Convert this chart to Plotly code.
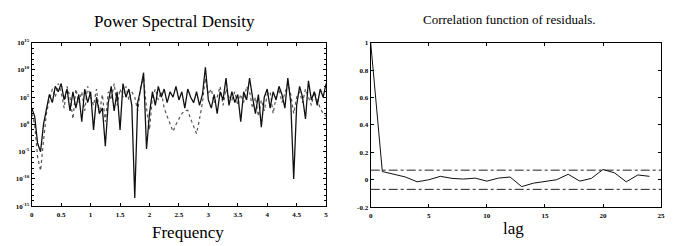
import plotly.graph_objects as go

# ---- data ----
freq = [round(i * 0.05, 2) for i in range(101)]

psd_solid_log10 = [
    3.0, 1.5, -3.5, -5.0, 0.0, 3.0, 5.5, 4.0, 7.0, 6.0,
    7.5, 4.5, 6.5, 2.5, 6.0, 3.0, 5.5, 0.5, 6.5, 4.0,
    6.0, -1.0, 5.0, 2.0, 3.0, -4.0, 4.0, 7.0, 2.5, 6.0,
    -1.0, 7.5, 5.0, 6.5, 3.5, -13.5, 4.0, 6.5, 9.5, -4.5,
    2.0, 6.0, 3.5, 7.0, 5.0, 6.5, 4.0, 6.0, 5.0, 7.0,
    4.5, 6.0, 3.0, 6.5, 5.0, 4.0, 6.0, 3.5, 5.5, 10.5,
    4.5, 3.0, 5.5, 2.0, 6.0, 4.5, 8.5, 3.5, 6.0, 4.0,
    5.5, 0.5, 6.0, 4.5, 8.5, 5.0, 2.0, 5.5, -0.5, 5.0,
    6.5, 3.0, 6.0, 4.5, 7.0, 5.5, 3.0, 8.5, 4.0, -10.0,
    3.5, 7.0, 5.0, 1.0, 8.0, 4.5, 6.0, 3.5, 6.5, 5.0,
    7.5,
]

psd_dotted_log10 = [
    2.0, 0.0, -6.0, -8.5, -3.0, 2.0, 4.5, 6.5, 5.0, 7.5,
    6.0, 3.0, 7.0, 5.0, 1.0, 6.5, 4.0, 6.0, 2.5, 7.0,
    5.0, 3.5, 6.5, 2.0, 5.5, 0.5, 6.0, 4.5, 7.5, 3.5,
    6.5, 5.0, 7.0, 4.5, 6.0, 5.0, 2.5, 7.0, 8.5, 3.0,
    -1.0, 5.0, 6.5, 4.5, 6.0, 3.0, 1.5, 0.0, -1.3, 0.0,
    1.0, 2.0, 2.5, 2.6, 1.0, -0.5, -1.7, 1.0, 4.0, 8.5,
    5.5, 6.5, 4.0, 5.0, 7.0, 3.5, 6.5, 5.0, 4.5, 6.0,
    3.5, 5.5, 4.0, 7.0, 6.0, 3.0, 5.0, 1.5, 4.5, 2.5,
    5.5, 6.0, 2.0, 5.0, 6.5, 4.0, 6.0, 7.5, 5.5, 2.0,
    5.0, 6.0, 4.0, 6.5, 5.0, 3.5, 6.0, 4.5, 3.0, 2.0,
    1.5,
]

lags = list(range(25))
corr = [1.0, 0.06, 0.04, 0.02, -0.015, 0.0, 0.025, 0.01, 0.005, 0.012,
        -0.01, 0.012, 0.02, -0.05, -0.025, -0.015, 0.0, 0.04, -0.01, 0.01,
        0.075, 0.05, -0.015, 0.035, 0.025]
conf_level = 0.07
lag_span = [0, 25]

psd_tickvals = [1e-15, 1e-10, 1e-5, 1e0, 1e5, 1e10, 1e15]
psd_ticktext = ["10<sup>-15</sup>", "10<sup>-10</sup>", "10<sup>-5</sup>", "10<sup>0</sup>",
                "10<sup>5</sup>", "10<sup>10</sup>", "10<sup>15</sup>"]
freq_ticks = [0, 0.5, 1, 1.5, 2, 2.5, 3, 3.5, 4, 4.5, 5]
freq_ticktext = ["0", "0.5", "1", "1.5", "2", "2.5", "3", "3.5", "4", "4.5", "5"]
lag_ticks = [0, 5, 10, 15, 20, 25]
corr_ticks = [-0.2, 0, 0.2, 0.4, 0.6, 0.8, 1]
corr_ticktext = ["-0.2", "0", "0.2", "0.4", "0.6", "0.8", "1"]

# ---- figure ----
fig = go.Figure()
fig.add_trace(go.Scatter(x=freq, y=[10 ** v for v in psd_dotted_log10], mode="lines",
                         line=dict(color="#555555", width=1.2, dash="dot"),
                         xaxis="x", yaxis="y", showlegend=False))
fig.add_trace(go.Scatter(x=freq, y=[10 ** v for v in psd_solid_log10], mode="lines",
                         line=dict(color="#111111", width=1.3),
                         xaxis="x", yaxis="y", showlegend=False))

for lvl in (conf_level, -conf_level):
    fig.add_trace(go.Scatter(x=lag_span, y=[lvl, lvl], mode="lines",
                             line=dict(color="#222222", width=1, dash="dashdot"),
                             xaxis="x2", yaxis="y2", showlegend=False))
fig.add_trace(go.Scatter(x=lags, y=corr, mode="lines",
                         line=dict(color="#111111", width=1),
                         xaxis="x2", yaxis="y2", showlegend=False))

tickfont = dict(family="Liberation Serif", size=7, color="black", weight="bold")
axis_common = dict(showline=True, linecolor="black", linewidth=1.2, mirror="ticks",
                   ticks="inside", ticklen=3, tickcolor="black", showgrid=False,
                   zeroline=False, tickfont=tickfont)


def label(text, xpx, ypx, size):
    return dict(text=text, x=xpx / 675, y=(246 - ypx) / 246, xref="paper", yref="paper",
                xanchor="center", yanchor="middle", showarrow=False,
                font=dict(family="Liberation Serif", size=size, color="black"))


fig.update_layout(
    width=675, height=246,
    margin=dict(l=0, r=0, t=0, b=0),
    paper_bgcolor="white", plot_bgcolor="white",
    xaxis=dict(domain=[30 / 675, 327 / 675], range=[0, 5], tickvals=freq_ticks,
               ticktext=freq_ticktext, anchor="y", ticklabelstandoff=1, **axis_common),
    yaxis=dict(domain=[37 / 246, 206 / 246], type="log", range=[-15, 15],
               tickvals=psd_tickvals, ticktext=psd_ticktext, anchor="x",
               minor=dict(ticks="inside", ticklen=2, dtick=1, tickcolor="black"),
               **axis_common),
    xaxis2=dict(domain=[372 / 675, 665 / 675], range=[0, 25], tickvals=lag_ticks,
                anchor="y2", ticklabelstandoff=1, **axis_common),
    yaxis2=dict(domain=[36 / 246, 206 / 246], range=[-0.2, 1], tickvals=corr_ticks,
                ticktext=corr_ticktext, anchor="x2", **axis_common),
    annotations=[
        label("Power Spectral Density", 174, 18, 17),
        label("Correlation function of residuals.", 512, 16, 13),
        label("Frequency", 188, 236, 17),
        label("lag", 516, 232, 17),
    ],
)

fig.write_html("out.html", config={"displayModeBar": False},
               post_script="document.body.style.margin='0px';document.body.style.overflow='hidden';")
